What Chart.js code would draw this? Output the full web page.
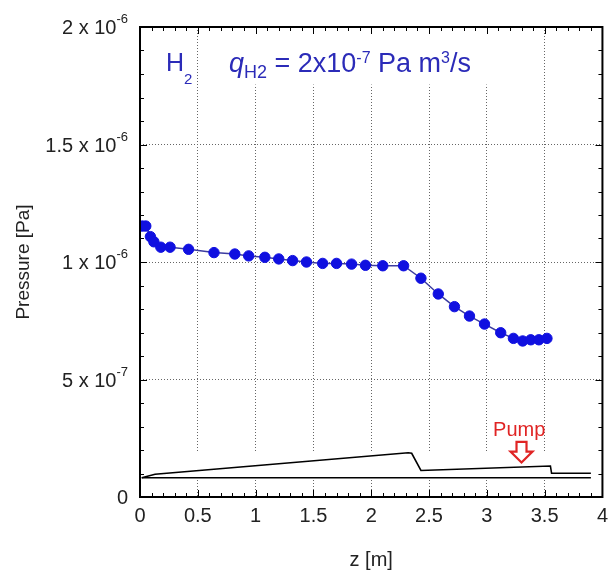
<!DOCTYPE html>
<html>
<head>
<meta charset="utf-8">
<script src="https://cdn.jsdelivr.net/npm/chart.js@4.4.0/dist/chart.umd.min.js"></script>
<style>
  html, body { margin: 0; padding: 0; background: #fff; }
  #wrap { width: 615px; height: 576px; }
</style>
</head>
<body>
<div id="wrap"><canvas id="grafico" width="615" height="576"></canvas></div>
<script>
// Pontos medidos (z em m, pressão em Pa)
const zMedido = [0.02, 0.05, 0.09, 0.12, 0.18, 0.26, 0.42, 0.64, 0.82, 0.94, 1.08, 1.20, 1.32, 1.44, 1.58, 1.70,
    1.83, 1.95, 2.10, 2.28, 2.43, 2.58, 2.72, 2.85, 2.98, 3.12, 3.23, 3.31, 3.38, 3.45, 3.52];
const pressaoH2 = [1.153e-6, 1.153e-6, 1.108e-6, 1.086e-6, 1.063e-6, 1.063e-6, 1.054e-6, 1.040e-6, 1.034e-6,
    1.026e-6, 1.020e-6, 1.013e-6, 1.006e-6, 1.000e-6, 0.994e-6, 0.994e-6, 0.991e-6, 0.986e-6, 0.984e-6,
    0.984e-6, 0.931e-6, 0.864e-6, 0.810e-6, 0.770e-6, 0.736e-6, 0.699e-6, 0.675e-6, 0.664e-6, 0.669e-6,
    0.669e-6, 0.675e-6];

// Perfil da câmara (desenho esquemático no rodapé)
const zCamaraTopo = [0.015, 0.13, 2.32, 2.35, 2.43, 3.55, 3.56, 3.90];
const pCamaraTopo = [0.82e-7, 0.97e-7, 1.885e-7, 1.86e-7, 1.13e-7, 1.32e-7, 1.01e-7, 1.01e-7];
const zCamaraBase = [0.015, 3.90];
const pCamaraBase = [0.82e-7, 0.82e-7];

// Rótulos do eixo y
const yTickValores = [0, 5e-7, 1e-6, 1.5e-6, 2e-6];
const yTickBase = ['0', '5 x 10', '1 x 10', '1.5 x 10', '2 x 10'];
const yTickExpoente = ['', '-7', '-6', '-6', '-6'];

const AZUL_TEXTO = '#2b2bb8';
const FONTE = '"Liberation Sans", Arial, sans-serif';

function pares(xs, ys) {
    return xs.map((x, i) => ({ x, y: ys[i] }));
}

// Escreve trechos de texto com fontes / deslocamentos diferentes (sub e sobrescritos)
function escreverTrechos(ctx, x, y, trechos) {
    let cx = x;
    for (const t of trechos) {
        ctx.font = t.font;
        ctx.fillText(t.txt, cx, y + (t.dy || 0));
        cx += ctx.measureText(t.txt).width;
    }
    return cx;
}

function larguraTrechos(ctx, trechos) {
    let w = 0;
    for (const t of trechos) {
        ctx.font = t.font;
        w += ctx.measureText(t.txt).width;
    }
    return w;
}

const moldura = {
    id: 'moldura',
    beforeDatasetsDraw(chart) {
        const { ctx, chartArea: a, scales: { x, y } } = chart;
        ctx.save();
        ctx.fillStyle = '#fff';
        // caixa branca da legenda de texto
        const x0 = x.getPixelForValue(0.52), x1 = x.getPixelForValue(3.47);
        ctx.fillRect(x0, a.top, x1 - x0, y.getPixelForValue(1.755e-6) - a.top);
        // caixa branca do desenho da câmara
        const yA = y.getPixelForValue(1.9e-7), yB = y.getPixelForValue(0.76e-7);
        ctx.fillRect(a.left + 1, yA, x.getPixelForValue(3.95) - a.left, yB - yA);
        ctx.restore();
    },
    afterDatasetsDraw(chart) {
        const { ctx, chartArea: a, scales: { x, y } } = chart;
        ctx.save();

        // marcas internas
        ctx.strokeStyle = '#000';
        ctx.lineWidth = 1;
        ctx.beginPath();
        for (let i = 1; i < 40; i++) {
            const px = Math.round(x.getPixelForValue(i / 10)) + 0.5;
            const len = i % 5 === 0 ? 7 : 4;
            ctx.moveTo(px, a.bottom); ctx.lineTo(px, a.bottom - len);
            ctx.moveTo(px, a.top); ctx.lineTo(px, a.top + len);
        }
        for (let i = 1; i < 20; i++) {
            const py = Math.round(y.getPixelForValue(i * 1e-7)) + 0.5;
            const len = i % 5 === 0 ? 7 : 4;
            ctx.moveTo(a.left, py); ctx.lineTo(a.left + len, py);
            ctx.moveTo(a.right, py); ctx.lineTo(a.right - len, py);
        }
        ctx.stroke();

        ctx.lineWidth = 2;
        ctx.strokeRect(a.left, a.top, a.right - a.left, a.bottom - a.top);

        // rótulos do eixo y com expoente
        ctx.fillStyle = '#222';
        ctx.textBaseline = 'alphabetic';
        yTickValores.forEach((v, i) => {
            const py = y.getPixelForValue(v) + 1;
            const trechos = [{ txt: yTickBase[i], font: '20px ' + FONTE }];
            if (yTickExpoente[i]) trechos.push({ txt: yTickExpoente[i], font: '13px ' + FONTE, dy: -11 });
            const w = larguraTrechos(ctx, trechos);
            escreverTrechos(ctx, 128 - w, py + 6, trechos);
        });

        // anotações em azul
        ctx.fillStyle = AZUL_TEXTO;
        escreverTrechos(ctx, 166, 71, [
            { txt: 'H', font: '25px ' + FONTE },
            { txt: '2', font: '15px ' + FONTE, dy: 13 }
        ]);
        escreverTrechos(ctx, 229, 72, [
            { txt: 'q', font: 'italic 27px ' + FONTE },
            { txt: 'H2', font: '18px ' + FONTE, dy: 6 },
            { txt: ' = 2x10', font: '27px ' + FONTE },
            { txt: '-7', font: '16px ' + FONTE, dy: -9 },
            { txt: ' Pa m', font: '27px ' + FONTE },
            { txt: '3', font: '16px ' + FONTE, dy: -9 },
            { txt: '/s', font: '27px ' + FONTE }
        ]);

        // bomba
        const cor = '#e02424';
        ctx.fillStyle = cor;
        ctx.font = '20px ' + FONTE;
        ctx.textAlign = 'center';
        ctx.fillText('Pump', x.getPixelForValue(3.28), y.getPixelForValue(2.89e-7) + 7);
        const ax = x.getPixelForValue(3.30);
        const yTop = y.getPixelForValue(2.35e-7), yMid = y.getPixelForValue(1.93e-7), yTip = y.getPixelForValue(1.47e-7);
        ctx.beginPath();
        ctx.moveTo(ax - 5, yTop); ctx.lineTo(ax + 5, yTop); ctx.lineTo(ax + 5, yMid);
        ctx.lineTo(ax + 11, yMid); ctx.lineTo(ax, yTip); ctx.lineTo(ax - 11, yMid);
        ctx.lineTo(ax - 5, yMid); ctx.closePath();
        ctx.fillStyle = '#fff';
        ctx.fill();
        ctx.strokeStyle = cor;
        ctx.lineWidth = 2.2;
        ctx.stroke();

        ctx.restore();
    }
};

function semBordas(min, max) {
    return (c) => {
        const v = c.tick ? c.tick.value : null;
        if (v === null) return 'rgba(0,0,0,0)';
        return (Math.abs(v - min) < 1e-12 || Math.abs(v - max) < 1e-12) ? 'rgba(0,0,0,0)' : '#666';
    };
}

new Chart(document.getElementById('grafico').getContext('2d'), {
    type: 'line',
    data: {
        datasets: [
            {
                label: 'Câmara topo',
                data: pares(zCamaraTopo, pCamaraTopo),
                borderColor: '#000',
                borderWidth: 1.6,
                pointRadius: 0,
                fill: false
            },
            {
                label: 'Câmara base',
                data: pares(zCamaraBase, pCamaraBase),
                borderColor: '#000',
                borderWidth: 1.6,
                pointRadius: 0,
                fill: false
            },
            {
                label: 'H2',
                data: pares(zMedido, pressaoH2),
                borderColor: '#3c3ca0',
                borderWidth: 1.5,
                backgroundColor: '#1010e0',
                pointBackgroundColor: '#1010e0',
                pointBorderColor: '#1010e0',
                pointRadius: 5.2,
                pointBorderWidth: 1,
                fill: false
            }
        ]
    },
    options: {
        responsive: false,
        animation: false,
        layout: { padding: { top: 27, right: 9, left: 0, bottom: 0 } },
        plugins: {
            legend: { display: false },
            tooltip: { enabled: false }
        },
        scales: {
            x: {
                type: 'linear',
                min: 0,
                max: 4,
                ticks: {
                    stepSize: 0.5,
                    color: '#222',
                    padding: 7,
                    maxRotation: 0,
                    font: { family: FONTE, size: 20 },
                    callback: (v) => String(Math.round(v * 10) / 10)
                },
                grid: { color: semBordas(0, 4), lineWidth: 1, drawTicks: false },
                border: { display: false, dash: [1, 2] },
                title: {
                    display: true,
                    text: 'z [m]',
                    color: '#222',
                    font: { family: FONTE, size: 20 },
                    padding: { top: 13 }
                },
                afterFit(s) { s.height = 79; }
            },
            y: {
                type: 'linear',
                min: 0,
                max: 2e-6,
                ticks: { stepSize: 5e-7, display: false },
                grid: { color: semBordas(0, 2e-6), lineWidth: 1, drawTicks: false },
                border: { display: false, dash: [1, 2] },
                title: {
                    display: true,
                    text: 'Pressure [Pa]',
                    color: '#222',
                    font: { family: FONTE, size: 19 },
                    padding: { top: 12, bottom: 0 }
                },
                afterFit(s) { s.width = 140; }
            }
        }
    },
    plugins: [moldura]
});
</script>
</body>
</html>
